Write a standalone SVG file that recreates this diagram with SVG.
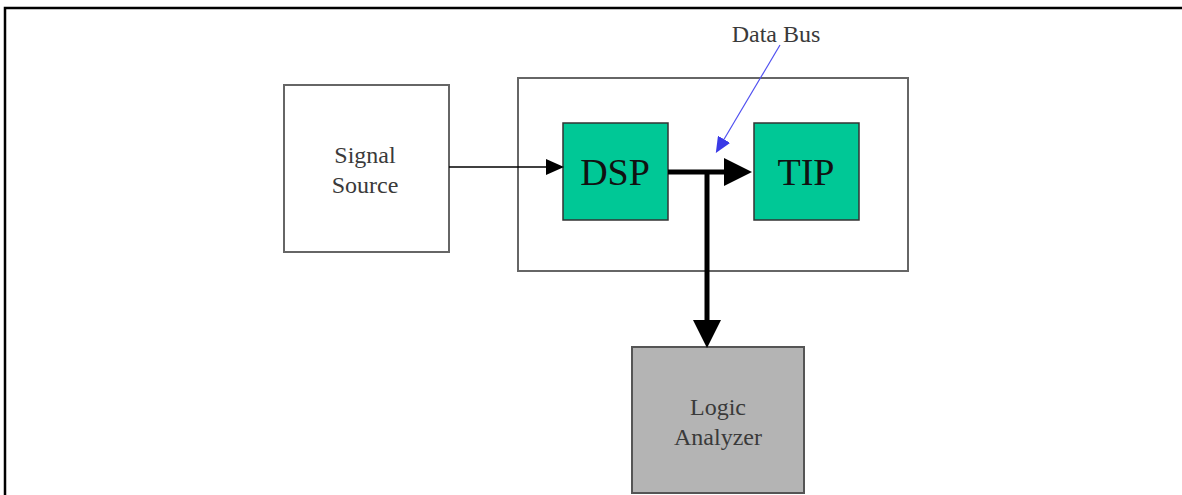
<svg xmlns="http://www.w3.org/2000/svg" width="1182" height="495" viewBox="0 0 1182 495">
  <style>
    .lbl { font-family: "Liberation Serif", "Times New Roman", serif; font-size: 24px; fill: #3a3a3a; text-anchor: middle; }
    .big { font-family: "Liberation Serif", "Times New Roman", serif; font-size: 38px; fill: #111; text-anchor: middle; }
    .box { stroke: #666; stroke-width: 2; }
    .chip { fill: #00C896; stroke: #333; stroke-width: 1.5; }
  </style>
  <defs>
    <!-- arrowheads attach at their base, so the line ends where the head begins -->
    <marker id="arrowSmall" markerWidth="18" markerHeight="16" refX="0" refY="8" orient="auto" markerUnits="userSpaceOnUse">
      <path d="M0,0 L18,8 L0,16 Z" fill="#000"/>
    </marker>
    <marker id="arrowBig" markerWidth="28" markerHeight="28" refX="0" refY="14" orient="auto" markerUnits="userSpaceOnUse">
      <path d="M0,0 L28,14 L0,28 Z" fill="#000"/>
    </marker>
    <marker id="arrowBlue" markerWidth="16" markerHeight="14" refX="2" refY="7" orient="auto" markerUnits="userSpaceOnUse">
      <path d="M0,0 L16,7 L0,14 Z" fill="#3a3ae6"/>
    </marker>
  </defs>

  <rect width="1182" height="495" fill="#fff"/>
  <!-- page frame -->
  <path d="M5,495 L5,8 L1182,8" fill="none" stroke="#000" stroke-width="2.5"/>

  <g id="signal-source">
    <rect class="box" x="284" y="85" width="165" height="167" fill="#fff"/>
    <text class="lbl" x="365" y="163">Signal</text>
    <text class="lbl" x="365" y="193">Source</text>
  </g>

  <g id="board">
    <rect class="box" x="518" y="78" width="390" height="193" fill="#fff"/>
  </g>

  <g id="dsp">
    <rect class="chip" x="563" y="123" width="105" height="97"/>
    <text class="big" x="615" y="185">DSP</text>
  </g>

  <g id="tip">
    <rect class="chip" x="754" y="123" width="105" height="97"/>
    <text class="big" x="806" y="185">TIP</text>
  </g>

  <g id="logic-analyzer">
    <rect x="632" y="347" width="172" height="146" fill="#B4B4B4" stroke="#555" stroke-width="2"/>
    <text class="lbl" x="718" y="415">Logic</text>
    <text class="lbl" x="718" y="445">Analyzer</text>
  </g>

  <g id="data-bus-label">
    <text class="lbl" x="776" y="42">Data Bus</text>
  </g>

  <g id="connectors">
    <line x1="449" y1="167" x2="546" y2="167" stroke="#000" stroke-width="1.5" marker-end="url(#arrowSmall)"/>
    <line x1="668" y1="172" x2="724" y2="172" stroke="#000" stroke-width="5" marker-end="url(#arrowBig)"/>
    <line x1="707" y1="172" x2="707" y2="320" stroke="#000" stroke-width="5" marker-end="url(#arrowBig)"/>
    <line x1="780" y1="45" x2="723" y2="141" stroke="#5050f0" stroke-width="1.2" marker-end="url(#arrowBlue)"/>
  </g>
</svg>
